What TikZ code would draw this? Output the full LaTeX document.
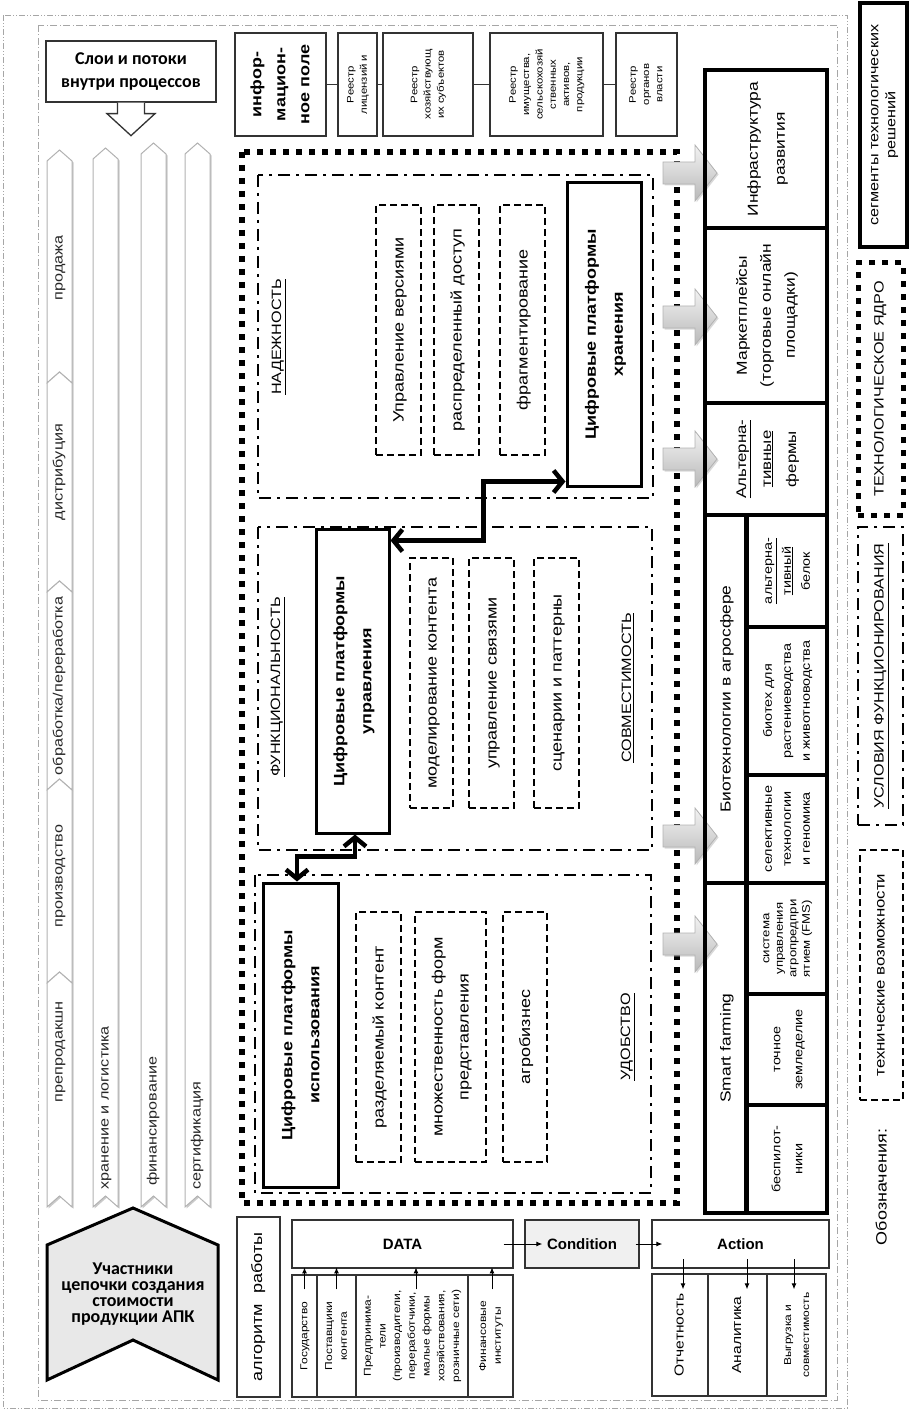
\documentclass[tikz,border=0pt]{standalone}
\usepackage{graphicx}
\usepackage{fontspec}
\setmainfont{Liberation Sans}[FakeStretch=1.2]
\newfontfamily\hfont{Liberation Sans}
\newfontfamily\cfont{Carlito}
\usetikzlibrary{arrows.meta,positioning,shadows}
% rotated multi-line text, read from bottom to top
\newcommand{\vt}[1]{\rotatebox{90}{\begin{tabular}{@{}c@{}}#1\end{tabular}}}

\begin{document}
\begin{tikzpicture}[x=1pt, y=-1pt,
    >=Latex,
    outerln/.style={draw=gray!70, line width=0.8pt, dash pattern=on 6pt off 2pt on 1pt off 2pt on 1pt off 2pt},
    innerln/.style={draw=gray!70, line width=0.8pt, dash pattern=on 7pt off 2.5pt on 1pt off 2.5pt},
    core/.style={draw, line width=6pt, dash pattern=on 6pt off 7pt},
    zone/.style={draw, line width=2.6pt, dash pattern=on 12pt off 6pt on 3pt off 6pt},
    opt/.style={draw, line width=2.4pt, dash pattern=on 7pt off 4pt, inner sep=0pt, font=\fontsize{15}{26}\selectfont},
    plat/.style={draw, line width=3pt, inner sep=0pt, minimum height=304pt, font=\bfseries\fontsize{15}{27}\selectfont},
    seg/.style={draw, line width=3.5pt, inner sep=0pt, font=\fontsize{14.5}{25}\selectfont},
    sub/.style={seg, minimum width=80pt, font=\fontsize{12}{19}\selectfont},
    reg/.style={draw=black!80, line width=1.3pt, inner sep=0pt, minimum height=103pt, font=\fontsize{9.5}{13.3}\selectfont},
    flow/.style={draw=black!80, line width=1.3pt, inner sep=0pt},
    src/.style={flow, minimum height=122pt, font=\fontsize{10}{14.7}\selectfont},
    res/.style={flow, minimum height=122pt, font=\fontsize{13}{18}\selectfont},
    key/.style={flow, minimum height=48pt, font=\hfont\bfseries\fontsize{15}{18}\selectfont},
    lane/.style={fill=white, draw=gray!60, line width=1pt,
        drop shadow={shadow xshift=1.5pt, shadow yshift=-1.5pt, fill=gray!70, opacity=0.6}},
    lanetxt/.style={inner sep=0pt, text=black!85, font=\fontsize{13.5}{16}\selectfont},
    zlabel/.style={inner sep=0pt, font=\fontsize{13.5}{16}\selectfont},
    garr/.style={top color=gray!10, bottom color=gray!55, draw=gray!60, line width=0.8pt,
        drop shadow={shadow xshift=1.5pt, shadow yshift=-1.5pt, fill=gray!60, opacity=0.5}},
    bigarr/.style={line width=4.5pt, {Straight Barb[length=9pt,width=22pt]}-{Straight Barb[length=9pt,width=22pt]}},
    sarr/.style={line width=1pt, -{Latex[length=6pt,width=5pt]}}
]
    \useasboundingbox (0,0) rectangle (912,1412);

    % frames
    \draw[outerln] (3,15) rectangle (847,1408);
    \draw[innerln] (38,25) rectangle (837,1400);

    % layers and flows
    \node[draw=black!80, line width=1.3pt, fill=white, minimum width=170pt, minimum height=61pt, align=center,
        font=\cfont\bfseries\fontsize{18}{23}\selectfont] (layers) at (131,71.5) {Слои и потоки\\внутри процессов};
    \draw[draw=black!80, line width=1.3pt, fill=white] (layers.south) ++(-13.5,0) -- ++(0,11) -- ++(-10.5,0)
        -- ++(24,22) -- ++(24,-22) -- ++(-10.5,0) -- ++(0,-11);

    \foreach \ya/\yb in {150/383,372/592,581/790,779/983,972/1207}
        \draw[lane] (47,\ya+11) -- (59.5,\ya) -- (72,\ya+11) -- (72,\yb) -- (59.5,\yb-11) -- (47,\yb) -- cycle;
    \foreach \xa/\ya in {93/148,141/143,185/143}
        \draw[lane] (\xa,\ya+11) -- (\xa+12.5,\ya) -- (\xa+25,\ya+11) -- (\xa+25,1207) -- (\xa+12.5,1196) -- (\xa,1207) -- cycle;

    \node[lanetxt] (sale) at (59.5,268) {\vt{продажа}};
    \node[lanetxt] (distr) at (59.5,472) {\vt{дистрибуция}};
    \node[lanetxt] (proc) at (59.5,686) {\vt{обработка/переработка}};
    \node[lanetxt] (prod) at (59.5,876) {\vt{производство}};
    \node[lanetxt] (preprod) at (59.5,1052) {\vt{препродакшн}};
    \node[lanetxt, anchor=south] (logist) at (105.5,1190) {\vt{хранение и логистика}};
    \node[lanetxt, anchor=south] (finance) at (153.5,1186) {\vt{финансирование}};
    \node[lanetxt, anchor=south] (cert) at (197.5,1190) {\vt{сертификация}};

    \draw[fill=gray!18, line width=3pt] (47,1245) -- (133,1208) -- (218,1245) -- (218,1380) -- (133,1340) -- (47,1380) -- cycle;
    \node[align=center, font=\cfont\bfseries\fontsize{18}{16}\selectfont] (actors) at (133,1294)
        {Участники\\цепочки создания\\стоимости\\продукции АПК};

    % registers
    \node[reg, minimum width=91pt, font=\bfseries\fontsize{15}{24}\selectfont] (info) at (280.5,84.5) {\vt{инфор-\\мацион-\\ное поле}};
    \node[reg, minimum width=39pt] (lic) at (357.5,84.5) {\vt{Реестр\\лицензий и}};
    \node[reg, minimum width=90pt] (hoz) at (428,84.5) {\vt{Реестр\\хозяйствующ\\их субъектов}};
    \node[reg, minimum width=113pt] (assets) at (546.5,84.5) {\vt{Реестр\\имущества,\\сельскохозяй\\ственных\\активов,\\продукции}};
    \node[reg, minimum width=61pt] (gov) at (646.5,84.5) {\vt{Реестр\\органов\\власти}};
    \draw[black!80, line width=1pt] (info) -- (lic) -- (hoz) -- (assets) -- (gov);

    % technological core
    \draw[core] (242,152) rectangle (677,1203);
    \draw[zone] (258,175) rectangle (653,498);
    \draw[zone] (258,527) rectangle (652,850);
    \draw[zone] (255,875) rectangle (651,1193);

    \node[zlabel] (rel) at (278,337) {\vt{\underline{НАДЕЖНОСТЬ}}};
    \node[zlabel] (func) at (277,687) {\vt{\underline{ФУНКЦИОНАЛЬНОСТЬ}}};
    \node[zlabel] (compat) at (628,688) {\vt{\underline{СОВМЕСТИМОСТЬ}}};
    \node[zlabel] (ease) at (627,1037) {\vt{\underline{УДОБСТВО}}};

    \node[opt, minimum width=45pt, minimum height=250pt] (ver) at (398.5,330) {\vt{Управление версиями}};
    \node[opt, minimum width=45pt, minimum height=250pt] (acc) at (456.5,330) {\vt{распределенный доступ}};
    \node[opt, minimum width=45pt, minimum height=250pt] (frag) at (522.5,330) {\vt{фрагментирование}};
    \node[opt, minimum width=43pt, minimum height=250pt] (model) at (431.5,683) {\vt{моделирование контента}};
    \node[opt, minimum width=45pt, minimum height=250pt] (links) at (491.5,683) {\vt{управление связями}};
    \node[opt, minimum width=45pt, minimum height=250pt] (scen) at (556.5,683) {\vt{сценарии и паттерны}};
    \node[opt, minimum width=45pt, minimum height=250pt] (shared) at (378.5,1037) {\vt{разделяемый контент}};
    \node[opt, minimum width=71pt, minimum height=250pt] (forms) at (450.5,1037) {\vt{множественность форм\\представления}};
    \node[opt, minimum width=44pt, minimum height=250pt] (agro) at (525,1037) {\vt{агробизнес}};

    \node[plat, minimum width=74pt, minimum height=303pt] (storage) at (604,334.5) {\vt{Цифровые платформы\\хранения}};
    \node[plat, minimum width=73pt] (mgmt) at (352.5,681) {\vt{Цифровые платформы\\управления}};
    \node[plat, minimum width=75pt] (use) at (300.5,1035) {\vt{Цифровые платформы\\использования}};

    \draw[bigarr] ([yshift=-13pt]mgmt.north east) -- ++(93,0) |- ([yshift=6pt]storage.south west);
    \draw[bigarr] ([xshift=-3.5pt]use.north) -- ++(0,-25) -| ([xshift=2.5pt]mgmt.south);

    \foreach \yc in {173,317,459,836,944}
        \draw[garr] (663,\yc-11) -- (695,\yc-11) -- (695,\yc-28) -- (717,\yc) -- (695,\yc+28) -- (695,\yc+11) -- (663,\yc+11) -- cycle;

    % segments
    \node[seg, minimum width=122pt, minimum height=158pt, font=\fontsize{14.5}{27}\selectfont] (infra) at (766,149) {\vt{Инфраструктура\\развития}};
    \node[seg, minimum width=122pt, minimum height=175pt, font=\fontsize{14.5}{24}\selectfont] (market) at (766,315.5) {\vt{Маркетплейсы\\(торговые онлайн\\площадки)}};
    \node[seg, minimum width=122pt, minimum height=112pt, font=\fontsize{14}{25}\selectfont] (altfarm) at (766,459) {\vt{\underline{Альтерна-}\\\underline{тивные}\\фермы}};
    \node[seg, minimum width=41pt, minimum height=368pt] (bio) at (725.5,699) {\vt{Биотехнологии в агросфере}};
    \node[sub, minimum height=112pt] (protein) at (787,571) {\vt{\underline{альтерна-}\\\underline{тивный}\\белок}};
    \node[sub, minimum height=148pt] (biotech) at (787,701) {\vt{биотех для\\растениеводства\\и животноводства}};
    \node[sub, minimum height=108pt] (select) at (787,829) {\vt{селективные\\технологии\\и геномика}};
    \node[seg, minimum width=41pt, minimum height=330pt] (smart) at (725.5,1048) {\vt{Smart farming}};
    \node[sub, minimum height=111pt, font=\fontsize{11}{13.5}\selectfont] (fms) at (787,938.5) {\vt{система\\управления\\агропредпри\\ятием (FMS)}};
    \node[sub, minimum height=111pt, font=\fontsize{12}{22}\selectfont] (precise) at (787,1049.5) {\vt{точное\\земледелие}};
    \node[sub, minimum height=108pt, font=\fontsize{12}{22}\selectfont] (drones) at (787,1159) {\vt{беспилот-\\ники}};

    % legend
    \node[seg, minimum width=47pt, minimum height=244pt, font=\fontsize{13.5}{17}\selectfont] (lgseg) at (883.5,125) {\vt{сегменты технологических\\решений}};
    \node[core, line width=5pt, inner sep=0pt, minimum width=45pt, minimum height=252pt, font=\fontsize{13.5}{16}\selectfont] (lgcore) at (880.5,389) {\vt{ТЕХНОЛОГИЧЕСКОЕ ЯДРО}};
    \node[zone, inner sep=0pt, minimum width=45pt, minimum height=298pt, font=\fontsize{13.5}{16}\selectfont] (lgcond) at (880.5,676) {\vt{\underline{УСЛОВИЯ ФУНКЦИОНИРОВАНИЯ}}};
    \node[opt, minimum width=43pt, minimum height=250pt, font=\fontsize{14}{16}\selectfont] (lgopt) at (881.5,975) {\vt{технические возможности}};
    \node[inner sep=0pt, font=\fontsize{15}{18}\selectfont] (lgtitle) at (883,1187) {\vt{Обозначения:}};

    % algorithm
    \node[flow, minimum width=43pt, minimum height=180pt, font=\fontsize{15}{18}\selectfont] (algo) at (258.5,1307) {\vt{алгоритм\ \ работы}};
    \node[key, minimum width=221pt] (data) at (402.5,1244) {DATA};
    \node[key, minimum width=114pt, fill=gray!12] (cond) at (582,1244) {Condition};
    \node[key, minimum width=177pt] (act) at (740.5,1244) {Action};

    \node[src, minimum width=25pt] (state) at (304.5,1336) {\vt{Государство}};
    \node[src, minimum width=39pt] (supp) at (336.5,1336) {\vt{Поставщики\\контента}};
    \node[src, minimum width=112pt] (entr) at (412,1336) {\vt{Предпринима-\\тели\\(производители,\\переработчики,\\малые формы\\хозяйствования,\\розничные сети)}};
    \node[src, minimum width=45pt] (finst) at (490.5,1336) {\vt{Финансовые\\институты}};

    \node[res, minimum width=56pt] (report) at (680,1335) {\vt{Отчетность}};
    \node[res, minimum width=59pt] (anlt) at (737.5,1335) {\vt{Аналитика}};
    \node[res, minimum width=59pt, font=\fontsize{10}{18}\selectfont] (export) at (796.5,1335) {\vt{Выгрузка и\\совместимость}};

    \draw[sarr] ([yshift=-15pt]state.north) -- ++(0,-22);
    \draw[sarr] ([yshift=-15pt]supp.north) -- ++(0,-22);
    \draw[sarr] ([xshift=4pt,yshift=-15pt]entr.north) -- ++(0,-22);
    \draw[sarr] ([xshift=1.5pt,yshift=-15pt]finst.north) -- ++(0,-22);
    \draw[sarr] ([xshift=-10pt]data.east) -- ([xshift=18pt]cond.west);
    \draw[sarr] ([xshift=-4pt]cond.east) -- ([xshift=11pt]act.west);
    \draw[sarr] ([xshift=3pt,yshift=14pt]report.north) -- ++(0,30);
    \draw[sarr] ([xshift=9.5pt,yshift=14pt]anlt.north) -- ++(0,30);
    \draw[sarr] ([xshift=-2.5pt,yshift=14pt]export.north) -- ++(0,30);
\end{tikzpicture}
\end{document}
